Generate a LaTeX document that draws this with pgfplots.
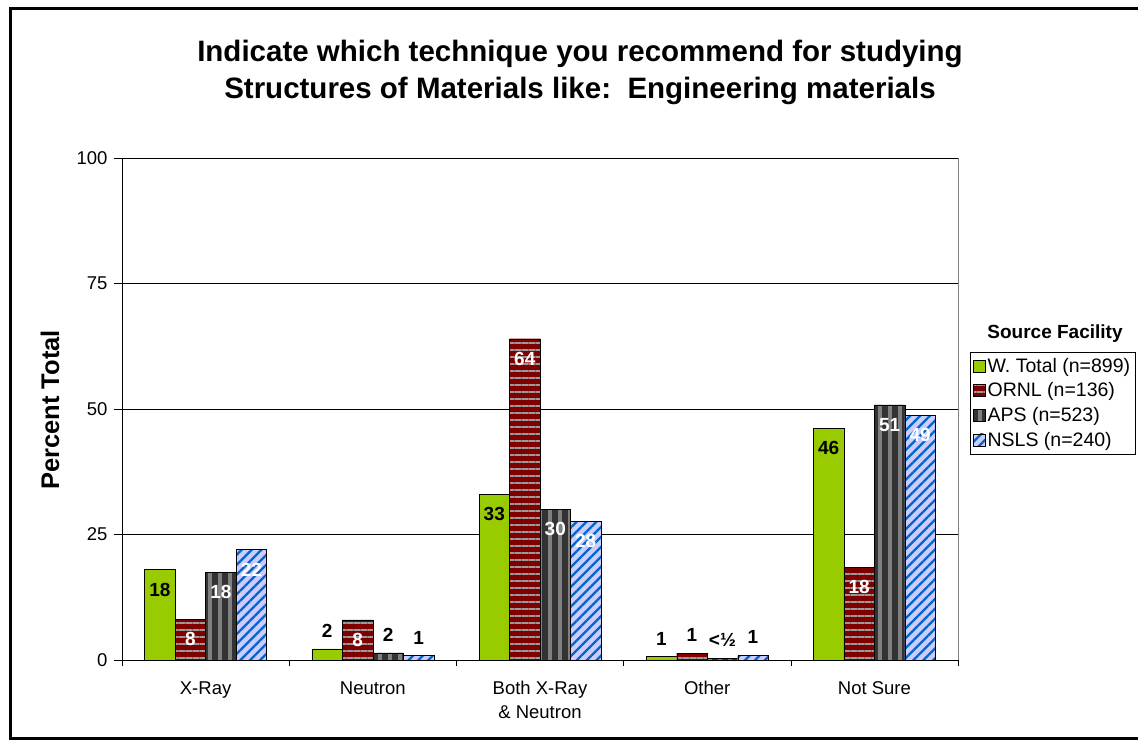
\documentclass[border=0pt]{standalone}
\usepackage{pgfplots}
\pgfplotsset{compat=1.18}
\usepackage{pgfplotstable}
\usepackage{fontspec}
\setmainfont{Liberation Sans}
\usetikzlibrary{patterns.meta}
\definecolor{cgreen}{HTML}{99CC00}
\definecolor{cred}{HTML}{800000}
\definecolor{cstripe}{HTML}{9A9A9A}
\definecolor{cdark}{HTML}{333333}
\definecolor{cgray}{HTML}{808080}
\definecolor{clav}{HTML}{CCCCFF}
\definecolor{cblue}{HTML}{0066CC}

% columns: category, value, label inside bar, label above bar
\pgfplotstableread{
x y in out
0 18.0 18 {}
1 2.2 {} 2
2 33.0 33 {}
3 0.66 {} 1
4 46.2 46 {}
}\totaldata
\pgfplotstableread{
x y in out
0 8.1 8 {}
1 8.0 8 {}
2 64.0 64 {}
3 1.35 {} 1
4 18.5 18 {}
}\ornldata
\pgfplotstableread{
x y in out
0 17.5 18 {}
1 1.4 {} 2
2 30.0 30 {}
3 0.33 {} <½
4 50.8 51 {}
}\apsdata
\pgfplotstableread{
x y in out
0 22.0 22 {}
1 0.86 {} 1
2 27.6 28 {}
3 0.93 {} 1
4 48.8 49 {}
}\nslsdata

\pgfplotsset{
  mybar/.style={
    ybar, bar width=0.1824, bar shift=0pt, draw=black, thin,
    point meta=explicit symbolic,
    nodes near coords={\pgfplotspointmeta},
    nodes near coords style={font=\fontsize{19}{21}\selectfont\bfseries, anchor=center, yshift=-20pt, text=#1},
    legend image code/.code={\draw[##1] (0pt,-6pt) rectangle (12pt,6pt);},
  },
  mylab/.style={
    ybar, bar width=0.1824, bar shift=0pt, draw=none, fill=none, forget plot,
    point meta=explicit symbolic,
    nodes near coords={\pgfplotspointmeta},
    nodes near coords style={font=\fontsize{19}{21}\selectfont\bfseries, anchor=center, yshift=18pt, text=black},
  },
}

\begin{document}
\begin{tikzpicture}[x=1pt,y=1pt]
\useasboundingbox (0,0) rectangle (1138,742);
\fill[white] (0,0) rectangle (1138,742);
\draw[line width=3pt] (1150,733) -- (10,733) -- (10,4) -- (1150,4);
\node[font=\fontsize{29.5}{37}\selectfont\bfseries, align=center] at (580,670) {Indicate which technique you recommend for studying\\Structures of Materials like:\ \ Engineering materials};
\node[font=\fontsize{25.5}{28}\selectfont\bfseries, rotate=90] at (50,332) {Percent Total};
\node[font=\fontsize{19}{22}\selectfont\bfseries] at (1055,408) {Source Facility};
\begin{axis}[
  at={(122pt,82pt)}, anchor=south west,
  scale only axis, width=836pt, height=502pt,
  xmin=-0.5, xmax=4.5, ymin=0, ymax=100,
  ytick={0,25,50,75,100},
  xtick={0,1,2,3,4},
  xticklabels={X-Ray,Neutron,{Both X-Ray\\\& Neutron},Other,Not Sure},
  xticklabel style={align=center, font=\fontsize{18.5}{24}\selectfont, yshift=-10pt},
  yticklabel style={font=\fontsize{18.5}{21}\selectfont, xshift=-3pt},
  /pgf/number format/assume math mode=true,
  x tick style={draw=none},
  y tick style={black, thin},
  tick align=outside, major tick length=8pt,
  extra x ticks={-0.5,0.5,1.5,2.5,3.5,4.5},
  extra x tick labels={},
  extra x tick style={x tick style={black, thin, draw=black}, major tick length=6pt},
  ymajorgrids, grid style={black, thin},
  axis x line*=bottom, axis y line*=left,
  axis line style={black, thin, -},
  clip=false,
  legend style={at={(rel axis cs:1.0144,0.6135)}, anchor=north west,
    draw=black, thin, font=\fontsize{19.5}{22}\selectfont,
    cells={anchor=west}, row sep=5pt, inner xsep=3pt, inner ysep=4pt},
]
\draw[gray, thin] (rel axis cs:1,0) -- (rel axis cs:1,1);
\addplot[mybar=black, fill=cgreen] table[x expr=\thisrow{x}-0.2736,y=y,meta=in] {\totaldata};
\addlegendentry{W. Total (n=899)}
\addplot[mybar=white, fill=cred, postaction={pattern color=cstripe, pattern={Lines[angle=0,distance=7pt,line width=2.3pt]}}] table[x expr=\thisrow{x}-0.0912,y=y,meta=in] {\ornldata};
\addlegendentry{ORNL (n=136)}
\addplot[mybar=white, fill=cdark, postaction={pattern color=cgray, pattern={Lines[angle=90,distance=10pt,line width=4pt]}}] table[x expr=\thisrow{x}+0.0912,y=y,meta=in] {\apsdata};
\addlegendentry{APS (n=523)}
\addplot[mybar=white, fill=clav, postaction={pattern color=cblue, pattern={Lines[angle=45,distance=7pt,line width=2.3pt]}}] table[x expr=\thisrow{x}+0.2736,y=y,meta=in] {\nslsdata};
\addlegendentry{NSLS (n=240)}
\addplot[mylab] table[x expr=\thisrow{x}-0.2736,y=y,meta=out] {\totaldata};
\addplot[mylab] table[x expr=\thisrow{x}-0.0912,y=y,meta=out] {\ornldata};
\addplot[mylab] table[x expr=\thisrow{x}+0.0912,y=y,meta=out] {\apsdata};
\addplot[mylab] table[x expr=\thisrow{x}+0.2736,y=y,meta=out] {\nslsdata};
\end{axis}
\end{tikzpicture}
\end{document}
